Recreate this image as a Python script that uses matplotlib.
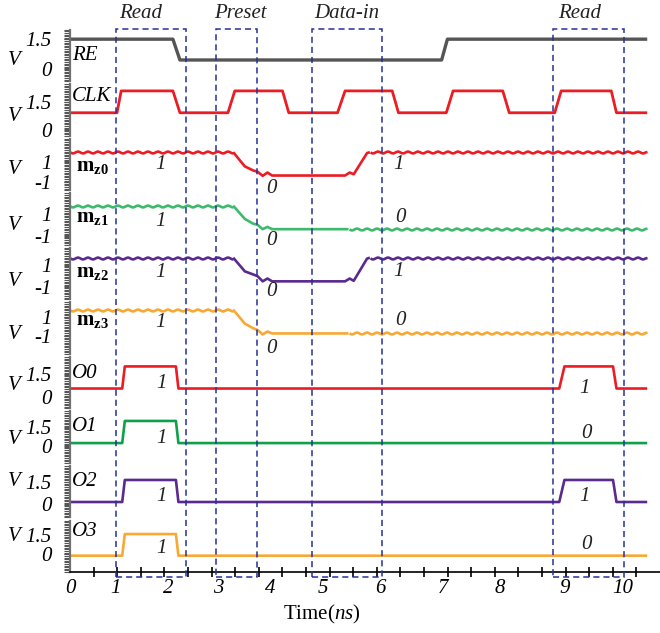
import numpy as np
import matplotlib
matplotlib.use("Agg")
import matplotlib.pyplot as plt
from matplotlib.patches import Rectangle
from matplotlib.ticker import LinearLocator, FixedLocator
from matplotlib.transforms import blended_transform_factory

plt.rcParams['font.family'] = 'Liberation Serif'
plt.rcParams['mathtext.fontset'] = 'custom'
plt.rcParams['mathtext.rm'] = 'Liberation Serif'
plt.rcParams['mathtext.it'] = 'Liberation Serif:italic'
plt.rcParams['mathtext.bf'] = 'Liberation Serif:bold'

# time axis calibration: ns -> ruler units (one ruler unit per small tick)
ns_marks = [-1, 0, 1, 2, 3, 4, 5, 6, 7, 8, 9, 10, 11]
ruler_marks = [-2.3, 0, 1.95, 4.15, 6.27, 8.5, 10.7, 13.15, 15.8, 18.2, 20.95, 23.4, 25.86]
time_ticks = [0, 1, 2, 3, 4, 5, 6, 7, 8, 9, 10]

# control signals (V)
t_re = [0, 2.1, 2.24, 6.98, 7.08, 10.43]
v_re = [1.5, 1.5, 0.44, 0.44, 1.5, 1.5]

t_clk = [0, 1.02, 1.1, 2.1, 2.24, 3.19, 3.32, 4.23, 4.35, 5.26, 5.39, 6.19, 6.29,
         7.06, 7.18, 8.05, 8.15, 8.85, 8.95, 9.81, 9.9, 10.43]
v_clk = [0.93, 0.93, 2.12, 2.12, 0.93, 0.93, 2.12, 2.12, 0.93, 0.93, 2.12, 2.12, 0.93,
         0.93, 2.12, 2.12, 0.93, 0.93, 2.12, 2.12, 0.93, 0.93]

# magnetisation of the four cells
t_mz0 = [0, 3.29, 3.51, 3.67, 3.75, 3.85, 3.94, 4.03, 5.39, 5.47, 5.54, 5.77, 5.82, 10.43]
v_mz0 = [1.95, 1.95, 0.52, 0.11, -0.01, -0.43, -0.1, -0.4, -0.4, -0.1, -0.27, 1.86, 1.95, 1.95]
wavy_mz0 = [(0, 3.29), (5.82, 10.43)]

t_mz1 = [0, 3.29, 3.51, 3.67, 3.75, 3.85, 3.94, 4.03, 5.45, 10.43]
v_mz1 = [1.78, 1.78, 0.57, 0.13, 0.04, -0.37, -0.16, -0.37, -0.37, -0.37]
wavy_mz1 = [(0, 3.29), (5.45, 10.43)]

t_mz2 = [0, 3.29, 3.51, 3.67, 3.75, 3.85, 3.94, 4.03, 5.39, 5.47, 5.54, 5.77, 5.82, 10.43]
v_mz2 = [1.68, 1.68, 0.41, 0.12, -0.03, -0.52, -0.26, -0.52, -0.52, -0.26, -0.47, 1.59, 1.68, 1.68]
wavy_mz2 = [(0, 3.29), (5.82, 10.43)]

t_mz3 = [0, 3.29, 3.51, 3.67, 3.75, 3.85, 3.94, 4.03, 5.45, 10.43]
v_mz3 = [1.8, 1.8, 0.34, -0.16, -0.33, -0.8, -0.5, -0.7, -0.7, -0.7]
wavy_mz3 = [(0, 3.29), (5.45, 10.43)]

# read outputs
t_o0 = [0, 1.12, 1.17, 2.16, 2.21, 8.92, 9.0, 9.84, 9.9, 10.43]
v_o0 = [0.54, 0.54, 2.03, 2.03, 0.54, 0.54, 2.03, 2.03, 0.54, 0.54]
t_o1 = [0, 1.12, 1.17, 2.16, 2.21, 10.43]
v_o1 = [0.2, 0.2, 1.95, 1.95, 0.2, 0.2]
t_o2 = [0, 1.12, 1.17, 2.16, 2.21, 8.92, 9.0, 9.84, 9.9, 10.43]
v_o2 = [0.15, 0.15, 1.65, 1.65, 0.15, 0.15, 1.65, 1.65, 0.15, 0.15]
t_o3 = [0, 1.12, 1.17, 2.16, 2.21, 10.43]
v_o3 = [-0.13, -0.13, 1.58, 1.58, -0.13, -0.13]

# operation windows
phase_names = ['Read', 'Preset', 'Data-in', 'Read']
phase_start = [1.0, 2.96, 4.79, 8.83]
phase_end = [2.36, 3.74, 6.03, 10.03]
phase_label_x = [1.48, 3.42, 5.42, 9.26]

# logic-state labels: (time, height in panel, text)
states_mz0 = [(1.85, 0.5, '1'), (4.02, 0.04, '0'), (6.29, 0.5, '1')]
states_mz1 = [(1.85, 0.46, '1'), (4.02, 0.08, '0'), (6.32, 0.54, '0')]
states_mz2 = [(1.85, 0.52, '1'), (4.02, 0.15, '0'), (6.29, 0.54, '1')]
states_mz3 = [(1.85, 0.61, '1'), (4.02, 0.1, '0'), (6.32, 0.65, '0')]
states_o0 = [(1.88, 0.48, '1'), (9.34, 0.39, '1')]
states_o1 = [(1.88, 0.48, '1'), (9.38, 0.58, '0')]
states_o2 = [(1.88, 0.41, '1'), (9.34, 0.41, '1')]
states_o3 = [(1.88, 0.45, '1'), (9.38, 0.54, '0')]

red = '#ec1c24'
green_m = '#3dba6c'
green_o = '#10a04a'
purple = '#5a2a8e'
orange = '#f8a833'
gray = '#555555'
box_color = '#26309a'

volt_ticks = ([0, 1.5], ['0', '1.5'])
mz_ticks = ([-1, 1], ['-1', '1'])

panels = [
    dict(name='RE', t=t_re, v=v_re, c=gray, lw=2.4, ylim=(-0.64, 1.98), ticks=volt_ticks,
         name_y=0.5, v_y=0.41, states=[], wavy=[]),
    dict(name='CLK', t=t_clk, v=v_clk, c=red, lw=2.0, ylim=(-0.32, 2.48), ticks=volt_ticks,
         name_y=0.76, v_y=0.37, states=[], wavy=[]),
    dict(name=r'$\mathbf{m}_{\mathbf{z0}}$', t=t_mz0, v=v_mz0, c=red, lw=1.9, ylim=(-1.88, 3.29),
         ticks=mz_ticks, name_y=0.46, v_y=0.41, states=states_mz0, wavy=wavy_mz0),
    dict(name=r'$\mathbf{m}_{\mathbf{z1}}$', t=t_mz1, v=v_mz1, c=green_m, lw=1.9, ylim=(-1.8, 2.91),
         ticks=mz_ticks, name_y=0.54, v_y=0.37, states=states_mz1, wavy=wavy_mz1),
    dict(name=r'$\mathbf{m}_{\mathbf{z2}}$', t=t_mz2, v=v_mz2, c=purple, lw=1.9, ylim=(-2.19, 2.59),
         ticks=mz_ticks, name_y=0.53, v_y=0.35, states=states_mz2, wavy=wavy_mz2),
    dict(name=r'$\mathbf{m}_{\mathbf{z3}}$', t=t_mz3, v=v_mz3, c=orange, lw=1.9, ylim=(-2.85, 2.57),
         ticks=mz_ticks, name_y=0.65, v_y=0.37, states=states_mz3, wavy=wavy_mz3),
    dict(name='O0', t=t_o0, v=v_o0, c=red, lw=1.9, ylim=(-0.8, 2.67), ticks=volt_ticks,
         name_y=0.67, v_y=0.45, states=states_o0, wavy=[]),
    dict(name='O1', t=t_o1, v=v_o1, c=green_o, lw=1.9, ylim=(-1.37, 2.7), ticks=volt_ticks,
         name_y=0.7, v_y=0.46, states=states_o1, wavy=[]),
    dict(name='O2', t=t_o2, v=v_o2, c=purple, lw=1.9, ylim=(-0.9, 2.6), ticks=volt_ticks,
         name_y=0.69, v_y=0.69, states=states_o2, wavy=[]),
    dict(name='O3', t=t_o3, v=v_o3, c=orange, lw=1.9, ylim=(-1.42, 2.65), ticks=volt_ticks,
         name_y=0.78, v_y=0.69, states=states_o3, wavy=[]),
]


def to_ruler(x):
    return np.interp(x, ns_marks, ruler_marks)


def from_ruler(r):
    return np.interp(r, ruler_marks, ns_marks)


def draw_trace(ax, t, v, color, lw, wavy):
    t = np.asarray(t, float)
    v = np.asarray(v, float)
    on = np.zeros(len(t) - 1, bool)
    for a, b in wavy:
        on |= (t[:-1] >= a) & (t[1:] <= b)
    start = 0
    for i in range(1, len(on) + 1):
        if i == len(on) or on[i] != on[start]:
            line, = ax.plot(t[start:i + 1], v[start:i + 1], color=color, lw=lw,
                            solid_joinstyle='round', solid_capstyle='butt')
            if on[start]:
                # small ripple on the settled magnetisation
                line.set_sketch_params(0.9, 10, 1)
            start = i


fig = plt.figure(figsize=(6.6, 6.33), dpi=100)
gs = fig.add_gridspec(len(panels), 1, left=0.106, right=1.0, top=0.953, bottom=0.0964, hspace=0.06)
axes = []
for i, p in enumerate(panels):
    ax = fig.add_subplot(gs[i], sharex=axes[0] if axes else None)
    ax.set_facecolor('none')
    axes.append(ax)
    draw_trace(ax, p['t'], p['v'], p['c'], p['lw'], p['wavy'])
    ax.set_ylim(*p['ylim'])
    for s in ['top', 'right', 'bottom']:
        ax.spines[s].set_visible(False)
    ax.spines['left'].set_color('#707070')
    ax.spines['left'].set_linewidth(1.6)
    ax.set_yticks(p['ticks'][0], labels=p['ticks'][1], fontstyle='italic', fontsize=15)
    ax.yaxis.set_minor_locator(LinearLocator(33))
    ax.tick_params(axis='y', which='both', direction='out', length=4, width=0.8,
                   color='#555555', pad=9)
    ax.tick_params(axis='x', which='both', bottom=False, labelbottom=False)
    is_math = '$' in p['name']
    ax.text(0.01 if is_math else 0.004, p['name_y'], p['name'], transform=ax.transAxes,
            ha='left', va='center', fontsize=15, fontstyle='italic')
    ax.text(-0.095, p['v_y'], 'V', transform=ax.transAxes, ha='center', va='center',
            fontsize=15, fontstyle='italic')
    for tx, ty, s in p['states']:
        ax.text(tx, ty, s, transform=ax.get_xaxis_transform(), ha='center', va='center',
                fontsize=15, fontstyle='italic', color='#222222')

ax_b = axes[-1]
ax_b.set_xscale('function', functions=(to_ruler, from_ruler))
ax_b.set_xlim(0, 10.65)
ax_b.spines['bottom'].set_visible(True)
ax_b.spines['bottom'].set_color('black')
ax_b.spines['bottom'].set_linewidth(1.2)
ax_b.set_xticks(time_ticks, labels=[str(k) for k in time_ticks], fontstyle='italic', fontsize=15)
ax_b.xaxis.set_minor_locator(FixedLocator(from_ruler(np.arange(0, 26))))
ax_b.tick_params(axis='x', which='both', bottom=True, labelbottom=True)
ax_b.tick_params(axis='x', which='major', length=0, pad=5)
ax_b.tick_params(axis='x', which='minor', direction='inout', length=7, width=1.2, color='black')
fig.text(0.487, 0.03, r'Time($\mathit{ns}$)', ha='center', va='center', fontsize=15)

# dashed operation windows across all panels
win_tr = blended_transform_factory(ax_b.transData, fig.transFigure)
for name, x0, x1, lx in zip(phase_names, phase_start, phase_end, phase_label_x):
    rect = Rectangle((x0, 0.0885), x1 - x0, 0.954 - 0.0885, transform=win_tr, fill=False,
                     edgecolor=box_color, lw=1.1, linestyle=(0, (4, 2.6)), zorder=5)
    fig.add_artist(rect)
    fig.text(lx, 0.978, name, transform=win_tr, ha='center', va='center', fontsize=15,
             fontstyle='italic', color='#222222')

fig.savefig('out.png', dpi=100)
